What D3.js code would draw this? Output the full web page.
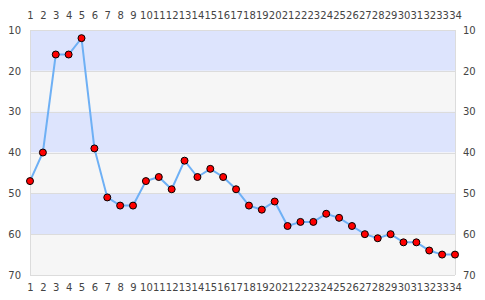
<!DOCTYPE html>
<html>
<head>
<meta charset="utf-8">
<script src="https://cdn.jsdelivr.net/npm/d3@7"></script>
<style>
  body { margin: 0; background: #fff; }
  text { font-family: "DejaVu Sans", sans-serif; }
</style>
</head>
<body>
<div id="chart"></div>
<script>
// data
const positions = d3.range(1, 35);
const values = [47, 40, 16, 16, 12, 39, 51, 53, 53, 47, 46, 49, 42, 46, 44, 46, 49,
                53, 54, 52, 58, 57, 57, 55, 56, 58, 60, 61, 60, 62, 62, 64, 65, 65];
const yTicks = [10, 20, 30, 40, 50, 60, 70];

const W = 485, H = 300;
const margin = { top: 30, right: 30, bottom: 25, left: 30 };
const width = W - margin.left - margin.right;
const height = H - margin.top - margin.bottom;

const svg = d3.select("#chart").append("svg")
  .attr("width", W)
  .attr("height", H);

const g = svg.append("g")
  .attr("transform", `translate(${margin.left},${margin.top})`);

const x = d3.scalePoint()
  .domain(positions)
  .range([0, width]);

const y = d3.scaleLinear()
  .domain([10, 70])
  .range([0, height]);

// alternating bands
const bands = d3.pairs(yTicks);
g.selectAll(".band")
  .data(bands)
  .enter().append("rect")
  .attr("class", "band")
  .attr("x", 0)
  .attr("width", width)
  .attr("y", d => y(d[0]))
  .attr("height", d => y(d[1]) - y(d[0]))
  .attr("fill", (d, i) => i % 2 === 0 ? "#dde4fd" : "#f6f6f6");

// grid lines
g.selectAll(".grid")
  .data(yTicks)
  .enter().append("line")
  .attr("x1", 0)
  .attr("x2", width)
  .attr("y1", d => Math.round(y(d)) + 0.5)
  .attr("y2", d => Math.round(y(d)) + 0.5)
  .attr("stroke", "#dcdcdc");

g.append("line")
  .attr("x1", 0.5).attr("x2", 0.5)
  .attr("y1", 0).attr("y2", height)
  .attr("stroke", "#dcdcdc");
g.append("line")
  .attr("x1", width + 0.5).attr("x2", width + 0.5)
  .attr("y1", 0).attr("y2", height)
  .attr("stroke", "#dcdcdc");

// axes (text only)
function styleAxis(sel) {
  sel.select(".domain").remove();
  sel.selectAll(".tick line").remove();
  sel.selectAll("text")
    .attr("fill", "#444")
    .style("font-size", "10px");
}

g.append("g")
  .call(d3.axisTop(x).tickSize(0).tickPadding(11))
  .call(styleAxis);

g.append("g")
  .attr("transform", `translate(0,${height})`)
  .call(d3.axisBottom(x).tickSize(0).tickPadding(9))
  .call(styleAxis);

g.append("g")
  .call(d3.axisLeft(y).tickValues(yTicks).tickSize(0).tickPadding(9))
  .call(styleAxis);

g.append("g")
  .attr("transform", `translate(${width},0)`)
  .call(d3.axisRight(y).tickValues(yTicks).tickSize(0).tickPadding(8))
  .call(styleAxis);

// line + markers
const line = d3.line()
  .x((d, i) => x(positions[i]))
  .y(d => y(d));

g.append("path")
  .datum(values)
  .attr("fill", "none")
  .attr("stroke", "#6eb0f5")
  .attr("stroke-width", 2)
  .attr("d", line);

g.selectAll(".dot")
  .data(values)
  .enter().append("circle")
  .attr("class", "dot")
  .attr("cx", (d, i) => x(positions[i]))
  .attr("cy", d => y(d))
  .attr("r", 3.5)
  .attr("fill", "#ff0000")
  .attr("stroke", "#000")
  .attr("stroke-width", 1);
</script>
</body>
</html>
